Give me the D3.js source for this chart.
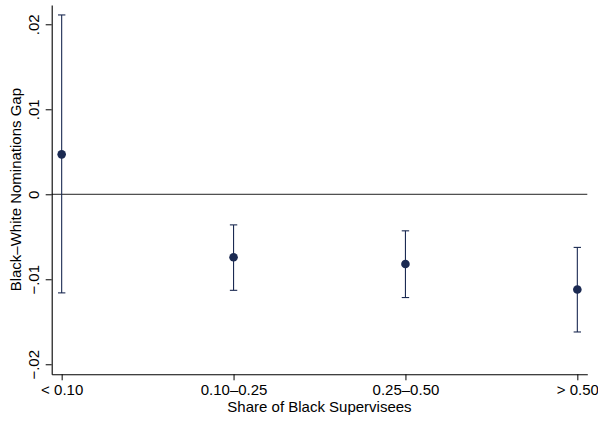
<!DOCTYPE html>
<html>
<head>
<meta charset="utf-8">
<script src="https://cdn.jsdelivr.net/npm/d3@7"></script>
<style>
  html, body { margin: 0; padding: 0; background: #fff; }
  svg { display: block; }
  text { font-family: "Liberation Sans", Arial, Helvetica, sans-serif; }
</style>
</head>
<body>
<svg id="chart" width="598" height="422"></svg>
<script>
// ---- data ----
const categories = ["< 0.10", "0.10\u20130.25", "0.25\u20130.50", "> 0.50"];
const estimates  = [0.0047, -0.0074, -0.0082, -0.0112];
const ciLower    = [-0.0116, -0.0113, -0.01215, -0.0162];
const ciUpper    = [0.0211, -0.0036, -0.0043, -0.00625];
const yTickValues = [-0.02, -0.01, 0, 0.01, 0.02];
const yTickLabels = ["\u2212.02", "\u2212.01", "0", ".01", ".02"];
const xTitle = "Share of Black Supervisees";
const yTitle = "Black\u2013White Nominations Gap";

// ---- layout ----
const W = 598, H = 422;
const plotLeft = 51.7, plotRight = 587.3, plotTop = 5, plotBottom = 374.3;
const navy = "#1b2a52";
const fontSize = 15;

const svg = d3.select("#chart");
svg.append("rect").attr("width", W).attr("height", H).attr("fill", "#fff");

const x = d3.scalePoint().domain(categories).range([plotLeft, plotRight]).padding(0.058);
const y = d3.scaleLinear().domain([-0.02118, 0.02227]).range([plotBottom, plotTop]);

// zero reference line
svg.append("line")
  .attr("x1", plotLeft).attr("x2", plotRight)
  .attr("y1", y(0)).attr("y2", y(0))
  .attr("stroke", "#222").attr("stroke-width", 1);

// y axis
const yAxis = d3.axisLeft(y)
  .tickValues(yTickValues)
  .tickFormat((d, i) => yTickLabels[i])
  .tickSize(6)
  .tickSizeOuter(0);
const gy = svg.append("g").attr("transform", `translate(${plotLeft},0)`).call(yAxis);
gy.select(".domain").attr("stroke", "#000").attr("stroke-width", 1.1);
gy.selectAll(".tick line").attr("stroke", "#000").attr("stroke-width", 1);
gy.selectAll(".tick text")
  .attr("transform", "rotate(-90)")
  .attr("x", 0).attr("y", -13.2).attr("dy", 0)
  .attr("text-anchor", "middle")
  .attr("fill", "#000")
  .style("font-size", fontSize + "px")
  .style("font-family", '"Liberation Sans", Arial, sans-serif');

// x axis
const xAxis = d3.axisBottom(x).tickSize(6).tickSizeOuter(0);
const gx = svg.append("g").attr("transform", `translate(0,${plotBottom})`).call(xAxis);
gx.select(".domain").attr("stroke", "#000").attr("stroke-width", 1.1);
gx.selectAll(".tick line").attr("stroke", "#000").attr("stroke-width", 1);
gx.selectAll(".tick text")
  .attr("y", 20.7).attr("dy", 0)
  .attr("fill", "#000")
  .style("font-size", fontSize + "px")
  .style("font-family", '"Liberation Sans", Arial, sans-serif');

// axis titles
svg.append("text")
  .attr("x", (plotLeft + plotRight) / 2).attr("y", 411.7)
  .attr("text-anchor", "middle")
  .style("font-size", fontSize + "px")
  .text(xTitle);
svg.append("text")
  .attr("transform", `translate(21,${(plotTop + plotBottom) / 2}) rotate(-90)`)
  .attr("text-anchor", "middle")
  .style("font-size", fontSize + "px")
  .text(yTitle);

// error bars
const rows = categories.map((c, i) => ({ c, est: estimates[i], lo: ciLower[i], hi: ciUpper[i] }));
const capHalf = 3.7;
const g = svg.append("g");
g.selectAll("line.ci").data(rows).join("line")
  .attr("class", "ci")
  .attr("x1", d => x(d.c)).attr("x2", d => x(d.c))
  .attr("y1", d => y(d.lo)).attr("y2", d => y(d.hi))
  .attr("stroke", navy).attr("stroke-width", 1.1);
g.selectAll("line.capHi").data(rows).join("line")
  .attr("class", "capHi")
  .attr("x1", d => x(d.c) - capHalf).attr("x2", d => x(d.c) + capHalf)
  .attr("y1", d => y(d.hi)).attr("y2", d => y(d.hi))
  .attr("stroke", navy).attr("stroke-width", 1.1);
g.selectAll("line.capLo").data(rows).join("line")
  .attr("class", "capLo")
  .attr("x1", d => x(d.c) - capHalf).attr("x2", d => x(d.c) + capHalf)
  .attr("y1", d => y(d.lo)).attr("y2", d => y(d.lo))
  .attr("stroke", navy).attr("stroke-width", 1.1);

// points
g.selectAll("circle").data(rows).join("circle")
  .attr("cx", d => x(d.c)).attr("cy", d => y(d.est))
  .attr("r", 4.3)
  .attr("fill", navy);
</script>
</body>
</html>
